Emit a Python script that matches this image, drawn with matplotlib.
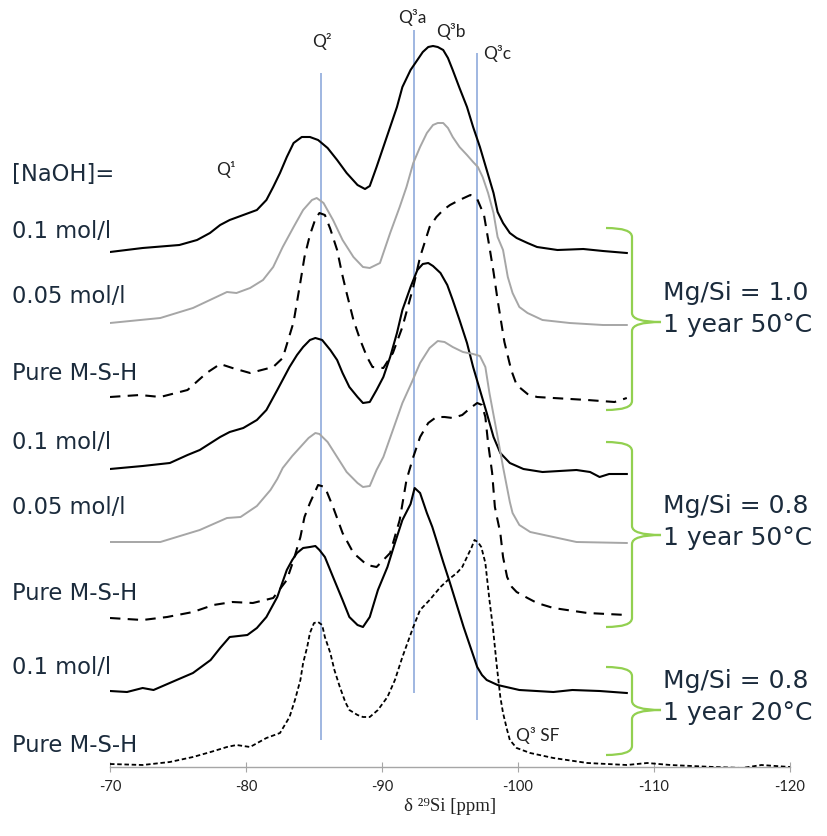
import numpy as np
import matplotlib
matplotlib.use("Agg")
import matplotlib.pyplot as plt
from matplotlib.path import Path
from matplotlib.patches import PathPatch

plt.rcParams["axes.unicode_minus"] = False

# chemical shift (ppm) and intensity, top to bottom
ppm_1 = [-70, -72.4, -75.1, -76.4, -77.35, -78.1, -78.8, -79.8, -80.8, -81.5, -82.0, -82.5, -83.0, -83.5,
         -84.1, -84.7, -85.3, -86.0, -86.7, -87.4, -88.2, -88.75, -89.1, -89.6, -90.1, -90.6, -91.1, -91.5,
         -92.1, -92.6, -93.0, -93.4, -93.75, -94.1, -94.5, -94.85, -95.2, -95.7, -96.25, -96.7, -97.2,
         -97.7, -98.2, -98.5, -98.9, -99.4, -99.9, -100.7, -101.4, -102.9, -104.8, -106.25, -108]
int_1 = [0, 4, 7, 12, 19, 27, 32, 37, 42, 52, 65, 79, 95, 109,
         115, 115, 112, 104, 92, 79, 67, 63, 66, 85, 105, 125, 145, 165,
         182, 192, 200, 205, 206, 205, 202, 194, 182, 164, 145, 125, 105,
         82, 59, 40, 29, 19, 14, 9, 5, 2, 3, 1, -1]

ppm_2 = [-70, -73.7, -76.1, -77.35, -78.6, -79.3, -80.3, -81.25, -82.0, -82.7, -83.5, -84.2, -84.85, -85.2,
         -85.7, -86.4, -87.1, -87.9, -88.6, -89.1, -89.85, -90.6, -91.3, -91.8, -92.3, -92.8, -93.3, -93.75,
         -94.1, -94.5, -94.85, -95.2, -95.7, -96.25, -96.7, -97.05, -97.4, -97.8, -98.2, -98.5, -98.9,
         -99.25, -99.6, -100.1, -100.7, -101.8, -103.8, -106.25, -108]
int_2 = [0, 5, 15, 23, 31, 30, 35, 43, 56, 76, 96, 113, 123, 125,
         120, 103, 83, 66, 56, 55, 60, 90, 116, 136, 160, 176, 190, 198,
         200, 200, 195, 186, 176, 168, 161, 156, 146, 130, 110, 86, 73,
         46, 30, 16, 10, 3, 0, -2, -2]

ppm_3 = [-70, -72.2, -73.7, -75.7, -77.1, -78.1, -79.0, -80.3, -82.0, -82.7, -83.5, -84.0, -84.3, -84.7,
         -85.1, -85.4, -85.8, -86.2, -86.7, -87.05, -87.4, -87.9, -88.4, -88.9, -89.3, -90.1, -90.8, -91.5,
         -92.3, -92.8, -93.5, -94.0, -94.5, -95.0, -95.7, -96.5, -97.0, -97.5, -97.9, -98.2, -98.5, -99.0,
         -99.5, -99.9, -100.7, -101.4, -102.6, -105.1, -107.1, -108]
int_3 = [0, 2, 0, 7, 24, 33, 29, 24, 30, 39, 75, 115, 140, 162,
         178, 184, 182, 168, 147, 124, 104, 77, 57, 40, 30, 29, 44, 70,
         110, 140, 170, 180, 187, 192, 197, 202, 198, 182, 150, 125, 97, 55,
         27, 12, 3, 0, -1, -3, -5, -1]

ppm_4 = [-70, -72.4, -74.4, -75.7, -76.6, -78.1, -78.8, -79.8, -80.8, -81.5, -82.3, -83.2, -83.75, -84.2,
         -84.7, -85.1, -85.6, -86.2, -86.7, -87.1, -87.6, -88.2, -88.6, -89.1, -89.6, -90.1, -90.6, -91.1,
         -91.5, -92.1, -92.6, -93.0, -93.4, -93.75, -94.3, -94.8, -95.2, -95.7, -96.25, -96.7, -97.2,
         -97.7, -98.2, -98.7, -99.4, -100.4, -101.8, -104.3, -105.3, -106.0, -106.7, -108]
int_4 = [0, 3, 6, 14, 19, 32, 37, 41, 49, 59, 79, 102, 114, 122,
         129, 131, 129, 119, 109, 96, 82, 72, 66, 67, 79, 92, 112, 136,
         159, 182, 199, 205, 206, 203, 196, 184, 169, 149, 126, 102, 79,
         56, 32, 16, 6, 0, -3, -1, -3, -8, -5, -5]

ppm_5 = [-70, -73.7, -76.6, -78.6, -79.6, -80.8, -81.8, -82.3, -82.7, -83.4, -84.0, -84.6, -85.1, -85.4,
         -86.0, -86.7, -87.4, -88.2, -88.6, -89.1, -89.6, -90.1, -90.8, -91.5, -92.2, -92.8, -93.5, -94.1,
         -94.6, -95.2, -95.95, -96.7, -97.2, -97.6, -97.9, -98.45, -98.9, -99.4, -99.6, -100.1, -100.9,
         -102.6, -104.3, -108]
int_5 = [0, 0, 12, 24, 25, 36, 52, 63, 74, 86, 95, 104, 109, 108,
         100, 85, 70, 59, 55, 56, 72, 85, 112, 139, 160, 179, 194, 201,
         200, 195, 190, 188, 186, 175, 149, 109, 75, 40, 29, 17, 10,
         5, 0, -1]

ppm_6 = [-70, -72.4, -74.2, -76.1, -77.6, -79.0, -80.5, -82.0, -83.0, -83.5, -84.0, -84.3, -84.7, -85.3,
         -85.8, -86.4, -87.1, -87.9, -88.9, -89.6, -90.6, -91.3, -91.8, -92.3, -92.8, -93.4, -94.0, -94.6,
         -95.2, -95.9, -96.5, -97.0, -97.35, -97.6, -97.8, -98.1, -98.3, -98.45, -98.7, -98.9, -99.2,
         -99.55, -99.9, -100.7, -101.4, -102.6, -105.1, -108]
int_6 = [0, -2, 1, 6, 13, 16, 15, 20, 38, 58, 81, 101, 115, 133,
         131, 111, 85, 65, 53, 51, 65, 98, 138, 161, 181, 195, 201, 201,
         200, 203, 210, 215, 213, 201, 175, 145, 111, 101, 85, 61, 41,
         31, 26, 20, 15, 10, 5, 3]

ppm_7 = [-70, -71.25, -72.4, -73.2, -74.9, -76.1, -77.4, -78.1, -78.8, -80.1, -80.8, -81.5, -82.3, -83.0,
         -83.4, -83.75, -84.2, -84.7, -85.1, -85.4, -85.8, -86.4, -87.1, -87.6, -88.2, -88.6, -89.1, -89.7,
         -90.4, -90.95, -91.5, -92.1, -92.4, -92.8, -93.3, -93.7, -94.0, -94.5, -95.0, -95.5, -96.0, -96.5,
         -97.0, -97.35, -97.7, -98.5, -100.1, -102.6, -104.0, -106.0, -108]
int_7 = [0, -1, 3, 1, 11, 18, 31, 43, 54, 56, 63, 74, 94, 121,
         131, 138, 143, 144, 145, 141, 134, 114, 91, 74, 66, 64, 74, 101,
         124, 148, 171, 187, 203, 198, 178, 164, 151, 129, 108, 86, 64, 44,
         24, 16, 11, 6, 1, -1, 1, 0, -2]

ppm_8 = [-70, -72.4, -74.4, -76.1, -77.4, -78.6, -79.3, -80.3, -81.5, -82.5, -83.2, -83.6, -84.0, -84.2,
         -84.5, -84.7, -85.0, -85.3, -85.6, -85.8, -86.2, -86.5, -86.9, -87.3, -87.6, -88.2, -88.6, -89.1,
         -89.7, -90.4, -90.95, -91.5, -92.3, -92.8, -93.5, -94.3, -94.85, -95.5, -95.9, -96.25, -96.6,
         -96.8, -97.05, -97.3, -97.6, -97.9, -98.15, -98.45, -98.7, -98.9, -99.2, -99.4, -99.9, -100.9,
         -102.6, -105.1, -108, -109.5, -111.2, -114.4, -116.5, -117.9, -120]
int_8 = [0, -1, 2, 7, 12, 17, 19, 17, 26, 31, 47, 64, 84, 101,
         117, 131, 141, 142, 139, 127, 111, 94, 77, 62, 54, 49, 47, 47,
         54, 67, 84, 107, 137, 154, 164, 177, 184, 191, 197, 207, 217,
         224, 222, 217, 201, 164, 137, 97, 67, 51, 34, 24, 16, 11,
         6, 1, -1, 1, -1, -3, -4, -1, -3]

# peak positions (ppm) marked with vertical lines
ref_ppm = [-85.5, -92.35, -97.0]

# stacking: baseline of each spectrum, line colour and style
offsets = [515, 444, 370, 298, 225, 149, 76, 3]
spectra = [(ppm_1, int_1), (ppm_2, int_2), (ppm_3, int_3), (ppm_4, int_4),
           (ppm_5, int_5), (ppm_6, int_6), (ppm_7, int_7), (ppm_8, int_8)]
styles = [dict(color="black", lw=1.5),
          dict(color="#a6a6a6", lw=1.4),
          dict(color="black", lw=1.5, ls=(0, (5, 3.5))),
          dict(color="black", lw=1.5),
          dict(color="#a6a6a6", lw=1.4),
          dict(color="black", lw=1.5, ls=(0, (5, 3.5))),
          dict(color="black", lw=1.5),
          dict(color="black", lw=1.3, ls=(0, (2.5, 1.5)))]

W, H = 828, 836
fig = plt.figure(figsize=(W / 100, H / 100), dpi=100)
ax = fig.add_axes([110 / W, 69 / H, 680 / W, 767 / H])
ax.set_xlim(-70, -120)
ax.set_ylim(0, 767)

# blue peak-position lines
line_ranges = [(27, 694), (74, 737), (47, 714)]
for x, (y0, y1) in zip(ref_ppm, line_ranges):
    ax.vlines(x, y0, y1, color="#8faadc", lw=1.2, zorder=1)

for (px_, iy), off, st in zip(spectra, offsets, styles):
    ax.plot(px_, np.array(iy) + off, solid_joinstyle="round", dash_joinstyle="round",
            dash_capstyle="butt", zorder=3, **st)

for s in ["top", "left", "right"]:
    ax.spines[s].set_visible(False)
ax.spines["bottom"].set_color("#a6a6a6")
ax.spines["bottom"].set_linewidth(1.0)
ax.set_yticks([])
ax.set_xticks(np.arange(-70, -121, -10))
ax.tick_params(axis="x", direction="inout", length=7, color="#a6a6a6", labelsize=10.5,
               labelcolor="#222222", pad=6)
for lab in ax.get_xticklabels():
    lab.set_family("Lato")
ax.set_xlabel("δ ²⁹Si [ppm]", family=["Liberation Serif", "DejaVu Serif"], fontsize=13.5,
              color="#222222", labelpad=3)


def px(x, y):
    return x / W, 1 - y / H


# peak labels
qkw = dict(family="Lato", fontsize=12.5, color="#222222", ha="center", va="center")
fig.text(*px(322, 42), "Q²", **qkw)
fig.text(*px(412, 17), "Q³a", **qkw)
fig.text(*px(451, 32), "Q³b", **qkw)
fig.text(*px(497, 53), "Q³c", **qkw)
fig.text(*px(226, 170), "Q¹", **qkw)
fig.text(*px(538, 735), "Q³ SF", **qkw)

# sample labels on the left
lkw = dict(family="DejaVu Sans", fontsize=16.3, color="#1b2b3c", ha="left", va="center")
fig.text(*px(12, 175), "[NaOH]=", **lkw)
left_labels = ["0.1 mol/l", "0.05 mol/l", "Pure M-S-H", "0.1 mol/l", "0.05 mol/l",
               "Pure M-S-H", "0.1 mol/l", "Pure M-S-H"]
left_y = [231, 296, 373, 442, 507, 593, 667, 745]
for t, y in zip(left_labels, left_y):
    fig.text(*px(12, y), t, **lkw)

# green braces and series labels on the right
rkw = dict(lkw, fontsize=18)
groups = [("Mg/Si = 1.0", "1 year 50°C", 228, 410, 322),
          ("Mg/Si = 0.8", "1 year 50°C", 442, 627, 535),
          ("Mg/Si = 0.8", "1 year 20°C", 667, 755, 710)]
x0, xv, xt, r = 606, 632, 661, 9
for l1, l2, yt, yb, ym in groups:
    verts = [px(x0, yt), px(xv, yt), px(xv, yt + r),
             px(xv, ym - r), px(xv, ym), px(xt, ym),
             px(xv, ym), px(xv, ym + r),
             px(xv, yb - r), px(xv, yb), px(x0, yb)]
    codes = [Path.MOVETO, Path.CURVE3, Path.CURVE3,
             Path.LINETO, Path.CURVE3, Path.CURVE3,
             Path.CURVE3, Path.CURVE3,
             Path.LINETO, Path.CURVE3, Path.CURVE3]
    fig.patches.append(PathPatch(Path(verts, codes), transform=fig.transFigure, fill=False,
                                 edgecolor="#92d050", lw=1.6))
    fig.text(*px(663, ym - 29), l1, **rkw)
    fig.text(*px(663, ym + 3), l2, **rkw)

fig.savefig("out.png", dpi=100)
